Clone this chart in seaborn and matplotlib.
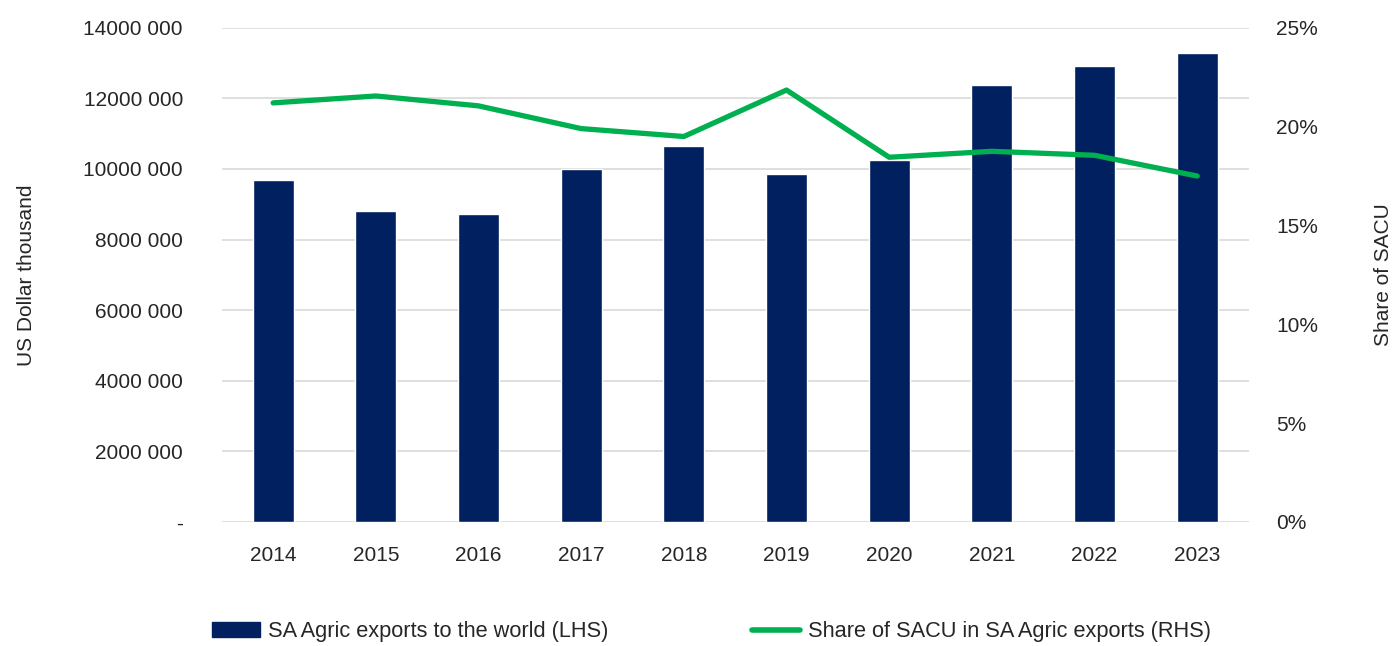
import matplotlib
matplotlib.use("Agg")
import matplotlib.pyplot as plt
import numpy as np
import pandas as pd
import seaborn as sns
from matplotlib.lines import Line2D
from matplotlib.patches import Patch

# Data
years = ["2014", "2015", "2016", "2017", "2018", "2019", "2020", "2021", "2022", "2023"]
exports = [9690000, 8810000, 8730000, 10000000, 10660000, 9860000, 10260000, 12380000, 12920000, 13290000]
sacu_share = [21.2, 21.55, 21.05, 19.9, 19.5, 21.85, 18.45, 18.75, 18.55, 17.5]

left_ticks = [0, 2000000, 4000000, 6000000, 8000000, 10000000, 12000000, 14000000]
left_labels = ["-", "2000 000", "4000 000", "6000 000", "8000 000", "10000 000", "12000 000", "14000 000"]
right_ticks = [0, 5, 10, 15, 20, 25]
right_labels = ["0%", "5%", "10%", "15%", "20%", "25%"]

bar_label = "SA Agric exports to the world (LHS)"
line_label = "Share of SACU in SA Agric exports (RHS)"

navy = "#002060"
green = "#00B050"

df = pd.DataFrame({"year": years, "exports": exports, "share": sacu_share})
df["pos"] = np.arange(len(df))

sns.set_style("white")
plt.rcParams["font.family"] = ["Liberation Sans", "DejaVu Sans"]

fig = plt.figure(figsize=(13.95, 6.46), dpi=100)
ax = fig.add_axes([0.159, 0.192, 0.736, 0.765])

sns.barplot(data=df, x="year", y="exports", color=navy, width=0.4,
            saturation=1, ax=ax, zorder=2)
ax.set_ylim(0, 14000000)
ax.set_xlim(-0.5, len(years) - 0.5)
ax.set_yticks(left_ticks)
ax.set_yticklabels(left_labels)
ax.yaxis.grid(True, color="#d9d9d9", linewidth=1.2, zorder=0)
ax.set_axisbelow(True)
ax.set_xlabel("")
ax.set_ylabel("US Dollar thousand", fontsize=15, labelpad=34)
ax.tick_params(axis="y", length=0, pad=28, labelsize=15)
ax.tick_params(axis="x", length=0, pad=17, labelsize=15)
for s in ax.spines.values():
    s.set_visible(False)

ax2 = ax.twinx()
sns.lineplot(data=df, x="pos", y="share", color=green, linewidth=3.8,
             ax=ax2, solid_capstyle="round")
ax2.set_ylim(0, 25)
ax2.set_xlim(-0.5, len(years) - 0.5)
ax2.set_yticks(right_ticks)
ax2.set_yticklabels(right_labels)
ax2.set_ylabel("Share of SACU", fontsize=15, labelpad=40)
ax2.set_xlabel("")
ax2.tick_params(axis="y", length=0, pad=20, labelsize=15)
ax2.grid(False)
for s in ax2.spines.values():
    s.set_visible(False)

handles = [Patch(facecolor=navy, edgecolor=navy),
           Line2D([0], [0], color=green, linewidth=4, solid_capstyle="round")]
fig.legend(handles, [bar_label, line_label], loc="center", ncol=2,
           bbox_to_anchor=(0.51, 0.022), frameon=False, fontsize=15.7,
           handlelength=2.2, handletextpad=0.35, columnspacing=6.6)

fig.savefig("out.png", dpi=100)
